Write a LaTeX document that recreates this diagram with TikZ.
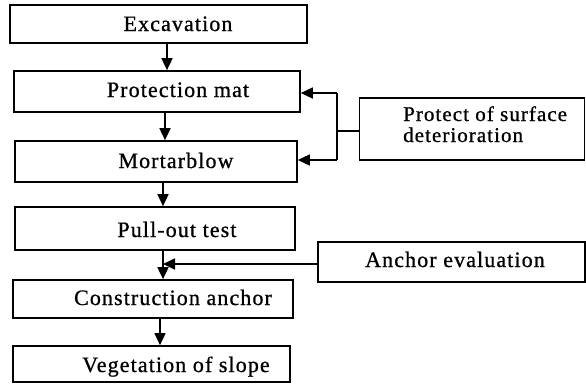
\documentclass[tikz,border=0pt]{standalone}
\usepackage{fontspec}
\setmainfont{Liberation Serif}[LetterSpace=5,FakeBold=0.8]
\usetikzlibrary{arrows.meta,calc}
\begin{document}
\begin{tikzpicture}[x=1pt,y=-1pt,
  box/.style={draw,line width=1.7pt,rectangle,inner sep=0pt},
  lbl/.style={font=\fontsize{22}{19}\selectfont, inner sep=0pt, anchor=base},
  arr/.style={line width=1.7pt,-{Triangle[length=12pt,width=11pt]}},
  ln/.style={line width=1.7pt}]
\useasboundingbox (0,0) rectangle (586,391);
% left column boxes
\node[box,minimum width=297pt,minimum height=38pt] (exc) at (158.5,24) {};
\node[lbl] (excT) at (178,31) {Excavation};
\node[box,minimum width=286pt,minimum height=41pt] (pm) at (157,91.5) {};
\node[lbl] (pmT) at (178,97) {Protection mat};
\node[box,minimum width=282pt,minimum height=41pt] (mb) at (156,161.5) {};
\node[lbl] (mbT) at (176,168) {Mortarblow};
\node[box,minimum width=280pt,minimum height=43pt] (pt) at (155,228.5) {};
\node[lbl] (ptT) at (177,237) {Pull-out test};
\node[box,minimum width=280pt,minimum height=38pt] (ca) at (153,299) {};
\node[lbl] (caT) at (173,305) {Construction anchor};
\node[box,minimum width=277pt,minimum height=36pt] (veg) at (151.5,364) {};
\node[lbl] (vegT) at (176,372) {Vegetation of slope};
% right boxes
\node[box,minimum width=225pt,minimum height=62pt] (prot) at (472,129) {};
\node[lbl,anchor=base west,font=\fontsize{21}{19}\selectfont] (protA) at (403,121) {Protect of surface};
\node[lbl,anchor=base west,font=\fontsize{21}{19}\selectfont] (protB) at (403,142) {deterioration};
\node[box,minimum width=267pt,minimum height=40pt] (ae) at (451.5,262) {};
\node[lbl] (aeT) at (455,267) {Anchor evaluation};
% vertical flow arrows
\coordinate (x1) at (167,0);
\coordinate (x2) at (165,0);
\coordinate (x3) at (163,0);
\coordinate (x4) at (163,0);
\coordinate (x5) at (160,0);
\draw[arr] (exc.south -| x1) -- (pm.north -| x1);
\draw[arr] (pm.south -| x2) -- (mb.north -| x2);
\draw[arr] (mb.south -| x3) -- (pt.north -| x3);
\draw[arr] (pt.south -| x4) -- (ca.north -| x4);
\draw[arr] (ca.south -| x5) -- (veg.north -| x5);
% branch from protect box
\coordinate (jx) at (337,131);
\coordinate (ya) at (0,93);
\coordinate (yb) at (0,160);
\draw[ln] (prot.west |- jx) -- (jx);
\draw[ln] (jx |- ya) -- (jx |- yb);
\draw[arr] (jx |- ya) -- (pm.east |- ya);
\draw[arr] (jx |- yb) -- (mb.east |- yb);
% anchor evaluation
\coordinate (ye) at (0,264);
\draw[arr] (ae.west |- ye) -- (x4 |- ye);
\end{tikzpicture}
\end{document}
